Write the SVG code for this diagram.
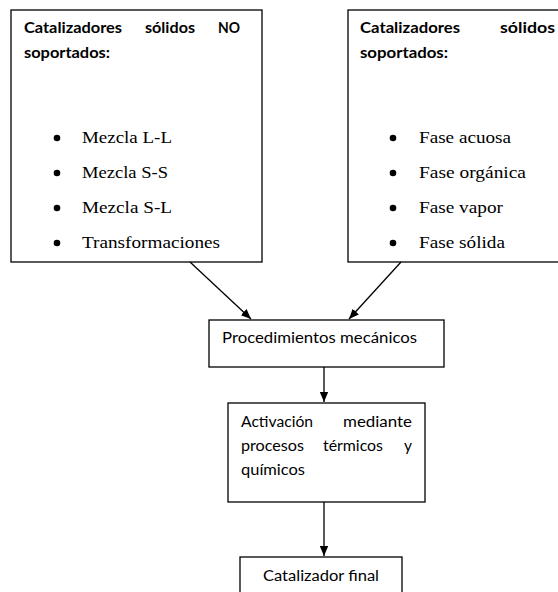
<svg xmlns="http://www.w3.org/2000/svg" width="558" height="592" viewBox="0 0 558 592">
<style>
.box{fill:#fff;stroke:#000;stroke-width:1.3}
.hd{font-family:Lato,"Open Sans","Liberation Sans",sans-serif;font-weight:bold;font-size:15.5px;fill:#000}
.tx{font-family:Lato,"Open Sans","Liberation Sans",sans-serif;font-size:15.5px;fill:#000}
.li{font-family:"Liberation Serif","Times New Roman",serif;font-size:17.5px;fill:#000}
.conn{stroke:#000;stroke-width:1.3;fill:none}
</style>
<defs>
<marker id="ah" markerUnits="userSpaceOnUse" markerWidth="12" markerHeight="12" viewBox="0 0 12 12" refX="10" refY="6" orient="auto">
<path d="M0,1.8 L10,6 L0,10.2 Z" fill="#000"/>
</marker>
</defs>
<rect width="558" height="592" fill="#fff"/>
<g id="no-soportados">
<rect class="box" x="11" y="10" width="251" height="252"/>
<text class="hd" x="24" y="33" textLength="98" lengthAdjust="spacingAndGlyphs">Catalizadores</text>
<text class="hd" x="145" y="33" textLength="50" lengthAdjust="spacingAndGlyphs">sólidos</text>
<text class="hd" x="218" y="33" textLength="22" lengthAdjust="spacingAndGlyphs">NO</text>
<text class="hd" x="24" y="58" textLength="86" lengthAdjust="spacingAndGlyphs">soportados:</text>
<circle cx="57" cy="138" r="3.3"/>
<circle cx="57" cy="173" r="3.3"/>
<circle cx="57" cy="208" r="3.3"/>
<circle cx="57" cy="243" r="3.3"/>
<text class="li" x="82" y="143" textLength="90" lengthAdjust="spacingAndGlyphs">Mezcla L-L</text>
<text class="li" x="82" y="178" textLength="86" lengthAdjust="spacingAndGlyphs">Mezcla S-S</text>
<text class="li" x="82" y="213" textLength="90" lengthAdjust="spacingAndGlyphs">Mezcla S-L</text>
<text class="li" x="82" y="248" textLength="138" lengthAdjust="spacingAndGlyphs">Transformaciones</text>
</g>
<g id="soportados">
<rect class="box" x="348" y="10" width="230" height="252"/>
<text class="hd" x="360" y="33" textLength="100" lengthAdjust="spacingAndGlyphs">Catalizadores</text>
<text class="hd" x="500" y="33" textLength="55" lengthAdjust="spacingAndGlyphs">sólidos</text>
<text class="hd" x="360" y="58" textLength="88" lengthAdjust="spacingAndGlyphs">soportados:</text>
<circle cx="393" cy="138" r="3.3"/>
<circle cx="393" cy="173" r="3.3"/>
<circle cx="393" cy="208" r="3.3"/>
<circle cx="393" cy="243" r="3.3"/>
<text class="li" x="419" y="143" textLength="92" lengthAdjust="spacingAndGlyphs">Fase acuosa</text>
<text class="li" x="419" y="178" textLength="107" lengthAdjust="spacingAndGlyphs">Fase orgánica</text>
<text class="li" x="419" y="213" textLength="84" lengthAdjust="spacingAndGlyphs">Fase vapor</text>
<text class="li" x="419" y="248" textLength="86" lengthAdjust="spacingAndGlyphs">Fase sólida</text>
</g>
<g id="mecanicos">
<rect class="box" x="209" y="320" width="235" height="47"/>
<text class="tx" x="222" y="343" textLength="195" lengthAdjust="spacingAndGlyphs">Procedimientos mecánicos</text>
</g>
<g id="activacion">
<rect class="box" x="228" y="403" width="197" height="99"/>
<text class="tx" x="241" y="427" textLength="72" lengthAdjust="spacingAndGlyphs">Activación</text>
<text class="tx" x="343" y="427" textLength="69" lengthAdjust="spacingAndGlyphs">mediante</text>
<text class="tx" x="241" y="451" textLength="63" lengthAdjust="spacingAndGlyphs">procesos</text>
<text class="tx" x="323" y="451" textLength="60" lengthAdjust="spacingAndGlyphs">térmicos</text>
<text class="tx" x="404" y="451" textLength="8" lengthAdjust="spacingAndGlyphs">y</text>
<text class="tx" x="241" y="475" textLength="64" lengthAdjust="spacingAndGlyphs">químicos</text>
</g>
<g id="final">
<rect class="box" x="240" y="557" width="162" height="50"/>
<text class="tx" x="263" y="581" textLength="116" lengthAdjust="spacingAndGlyphs">Catalizador final</text>
</g>
<g id="connectors">
<line class="conn" x1="190" y1="262" x2="251" y2="319" marker-end="url(#ah)"/>
<line class="conn" x1="401" y1="262" x2="349" y2="319" marker-end="url(#ah)"/>
<line class="conn" x1="324" y1="367" x2="324" y2="402" marker-end="url(#ah)"/>
<line class="conn" x1="324" y1="502" x2="324" y2="556" marker-end="url(#ah)"/>
</g>
</svg>
